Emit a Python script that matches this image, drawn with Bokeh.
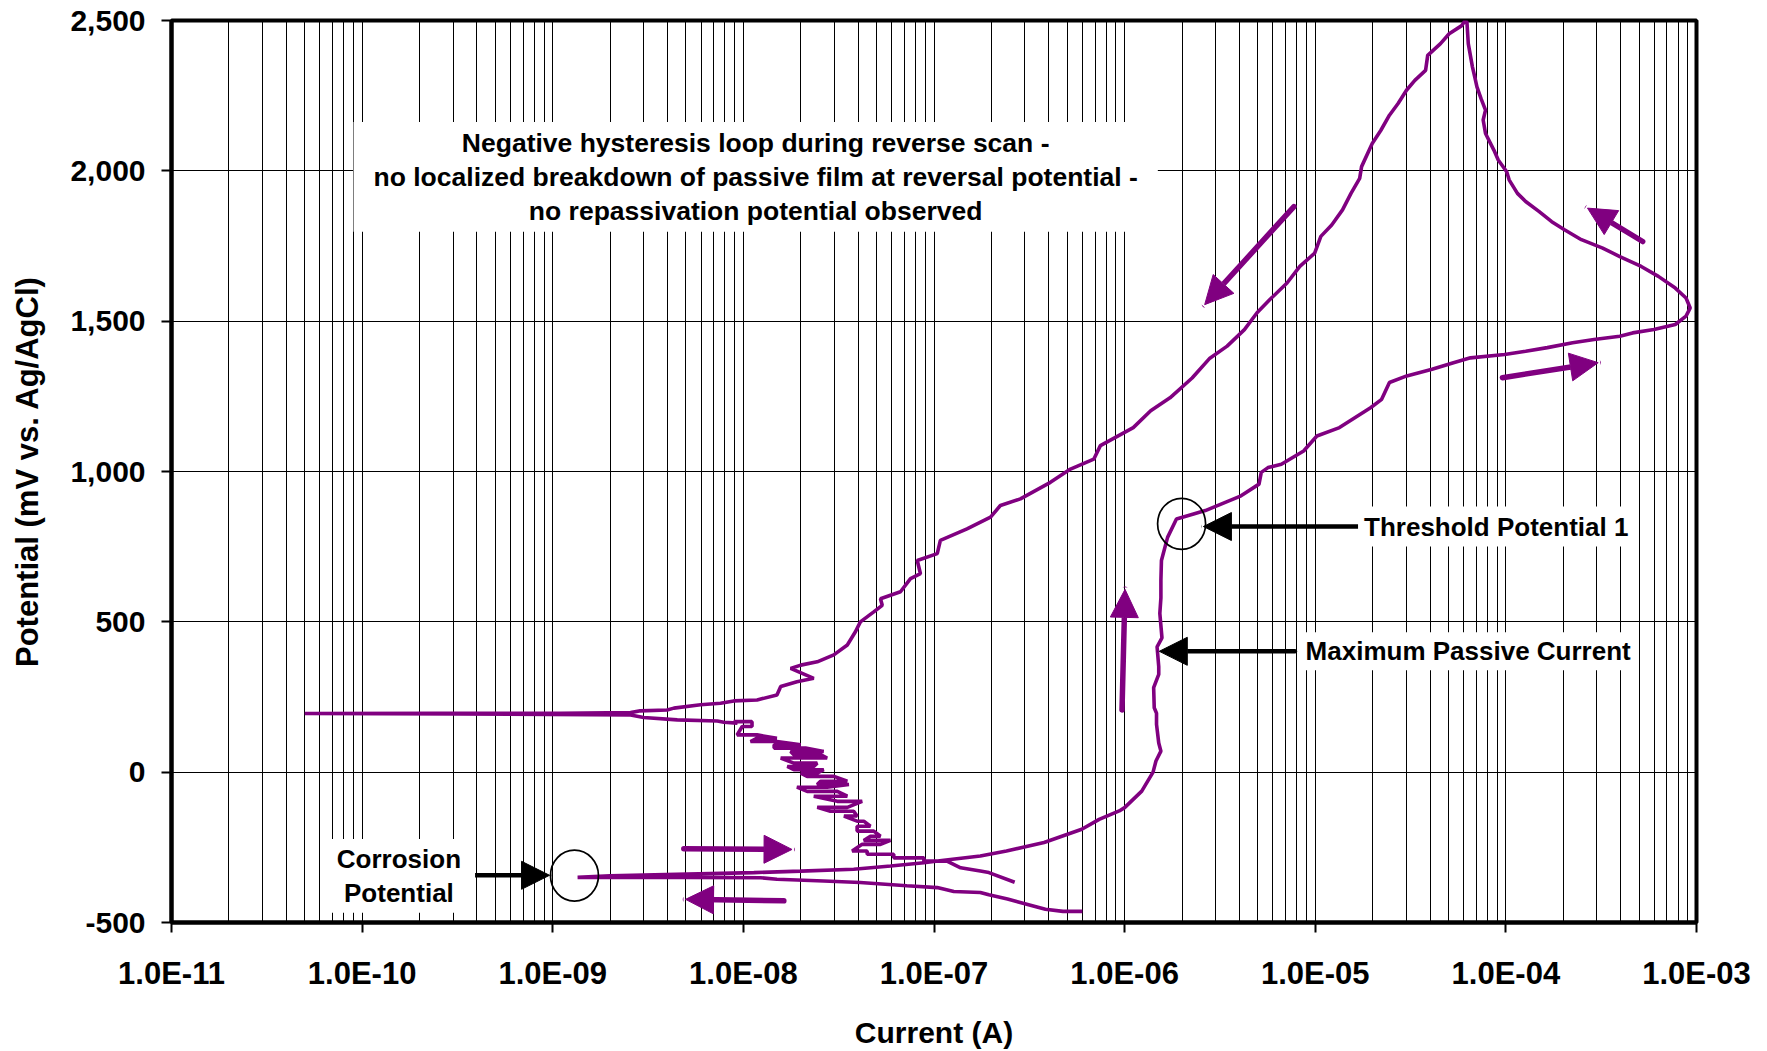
from bokeh.plotting import figure
from bokeh.models import (FixedTicker, NumeralTickFormatter, CustomJSTickFormatter,
                          Label, Arrow, NormalHead)
from bokeh.embed import file_html
from bokeh.resources import INLINE

# ---------------- data (current in A, potential in mV vs Ag/AgCl) ----------------
# initial cathodic part of the scan, from the start potential up to the corrosion potential
cath_start_current = [6.0e-7, 4.75e-7, 3.84e-7, 2.43e-7, 1.94e-7, 1.75e-7, 1.27e-7, 1.04e-7,
                      7.2e-8, 4.1e-8, 2.64e-8, 1.50e-8, 1.23e-8, 5.0e-9, 1.35e-9]
cath_start_potential = [-463, -463, -456, -422, -408, -400, -397, -384,
                        -378, -367, -362, -356, -351, -350, -350]

# forward (anodic) scan up to the reversal potential
forward_current = [1.35e-9, 2.0e-9, 1.135e-8, 2.0e-8, 3.79e-8, 5.92e-8, 8.85e-8, 1.127e-7,
                   1.75e-7, 2.40e-7, 3.78e-7, 5.96e-7, 7.35e-7, 9.37e-7, 1.0e-6, 1.23e-6,
                   1.41e-6, 1.46e-6, 1.55e-6, 1.51e-6, 1.47e-6, 1.47e-6, 1.43e-6, 1.42e-6,
                   1.51e-6, 1.51e-6, 1.48e-6, 1.57e-6, 1.53e-6, 1.55e-6, 1.55e-6, 1.56e-6,
                   1.68e-6, 1.87e-6, 2.14e-6, 2.65e-6, 4.08e-6, 5.07e-6, 5.21e-6, 5.65e-6,
                   6.64e-6, 8.69e-6, 1.02e-5, 1.34e-5, 1.95e-5, 2.23e-5, 2.45e-5, 3.02e-5,
                   4.10e-5, 5.31e-5, 6.52e-5, 9.84e-5, 1.27e-4, 1.65e-4, 2.24e-4, 2.90e-4,
                   3.96e-4, 4.62e-4, 5.98e-4, 7.74e-4, 8.81e-4, 9.27e-4, 8.81e-4, 7.74e-4,
                   6.31e-4, 5.13e-4, 3.96e-4, 3.22e-4, 2.49e-4, 2.03e-4, 1.74e-4, 1.49e-4,
                   1.27e-4, 1.15e-4, 1.04e-4, 1.01e-4, 9.12e-5, 8.65e-5, 7.82e-5, 7.60e-5,
                   7.82e-5, 7.41e-5, 7.05e-5, 6.87e-5, 6.68e-5, 6.35e-5, 6.25e-5, 6.12e-5]
forward_potential = [-350, -345, -334, -329, -323, -312, -301, -293,
                     -279, -262, -234, -190, -157, -129, -118, -63,
                     0, 37, 70, 97, 159, 196, 214, 281,
                     325, 351, 417, 447, 528, 580, 638, 704,
                     781, 842, 853, 870, 919, 958, 997, 1013,
                     1024, 1068, 1118, 1146, 1212, 1240, 1296, 1318,
                     1340, 1362, 1378, 1389, 1400, 1412, 1428, 1439,
                     1450, 1461, 1472, 1489, 1517, 1544, 1577, 1610,
                     1649, 1682, 1715, 1743, 1771, 1804, 1831, 1865,
                     1898, 1925, 1970, 1997, 2036, 2069, 2124, 2169,
                     2202, 2240, 2279, 2312, 2345, 2423, 2494, 2500]

# reverse scan from the reversal potential down to the zero-current crossing and back
reverse_current = [6.12e-5, 5.87e-5, 5.04e-5, 4.54e-5, 3.89e-5, 3.79e-5, 3.33e-5, 3.01e-5,
                   2.72e-5, 2.45e-5, 2.21e-5, 1.99e-5, 1.75e-5, 1.71e-5, 1.54e-5, 1.39e-5,
                   1.22e-5, 1.07e-5, 9.93e-6, 8.30e-6, 7.11e-6, 5.78e-6, 4.95e-6, 4.25e-6,
                   3.45e-6, 2.80e-6, 2.26e-6, 1.73e-6, 1.37e-6, 1.11e-6, 7.46e-7, 6.89e-7,
                   5.20e-7, 4.08e-7, 2.84e-7, 2.23e-7, 1.98e-7, 1.49e-7, 1.08e-7, 1.04e-7,
                   8.17e-8, 8.49e-8, 7.53e-8, 6.67e-8, 5.24e-8, 5.35e-8, 4.83e-8, 4.11e-8,
                   3.87e-8, 3.51e-8, 2.98e-8, 2.44e-8, 2.0e-8, 1.77e-8, 2.34e-8, 1.91e-8,
                   1.57e-8, 1.50e-8, 1.18e-8, 8.91e-9, 7.59e-9, 5.96e-9, 4.32e-9, 3.98e-9,
                   2.88e-9, 2.56e-9, 1.10e-9, 2.5e-10, 5.0e-11, 3.2e-10, 2.56e-9, 3.0e-9,
                   4.5e-9, 7.3e-9, 7.9e-9, 9.3e-9]
reverse_potential = [2500, 2483, 2456, 2423, 2384, 2334, 2301, 2268,
                     2224, 2185, 2135, 2091, 2014, 1975, 1925, 1870,
                     1820, 1782, 1726, 1682, 1627, 1572, 1528, 1472,
                     1417, 1377, 1311, 1245, 1202, 1146, 1086, 1041,
                     1008, 964, 909, 887, 848, 809, 771, 727,
                     704, 660, 644, 600, 577, 555, 533, 500,
                     467, 423, 390, 367, 356, 345, 312, 301,
                     285, 257, 240, 237, 229, 224, 213, 207,
                     204, 198, 196, 196, 195, 194, 190, 182,
                     174, 170, 166, 163]

# noisy cathodic end of the reverse scan
noisy_current = [8.9e-9, 1.11e-8, 1.11e-8, 9.86e-9, 9.27e-9, 1.18e-8, 1.50e-8, 1.18e-8,
                 1.09e-8, 1.50e-8, 2.0e-8, 1.45e-8, 1.45e-8, 2.12e-8, 2.64e-8, 1.77e-8,
                 1.84e-8, 2.54e-8, 2.75e-8, 1.57e-8, 1.84e-8, 2.44e-8, 2.34e-8, 1.70e-8,
                 1.84e-8, 2.64e-8, 2.44e-8, 2.0e-8, 2.16e-8, 2.99e-8, 3.51e-8, 2.54e-8,
                 2.44e-8, 3.58e-8, 2.75e-8, 1.91e-8, 2.16e-8, 3.11e-8, 3.51e-8, 2.34e-8,
                 3.11e-8, 4.20e-8, 3.51e-8, 2.44e-8, 2.86e-8, 3.79e-8, 3.95e-8, 3.37e-8,
                 3.95e-8, 4.28e-8, 4.64e-8, 3.95e-8, 3.95e-8, 4.83e-8, 5.24e-8, 4.64e-8,
                 4.28e-8, 5.91e-8, 5.24e-8, 4.20e-8, 3.72e-8, 4.46e-8, 4.46e-8, 6.15e-8,
                 6.15e-8, 8.85e-8, 8.85e-8, 1.17e-7, 1.38e-7, 1.75e-7, 1.94e-7, 2.65e-7]
noisy_potential = [168, 168, 152, 152, 124, 124, 113, 113,
                   102, 102, 91, 91, 80, 80, 69, 69,
                   58, 58, 47, 47, 30, 30, 19, 19,
                   8, 8, -3, -3, -14, -14, -30, -30,
                   -41, -41, -50, -50, -64, -64, -80, -80,
                   -97, -97, -117, -117, -130, -130, -146, -146,
                   -163, -163, -180, -180, -196, -196, -213, -213,
                   -227, -227, -240, -240, -262, -262, -273, -273,
                   -285, -285, -296, -296, -318, -329, -334, -366]

scan_current = cath_start_current + forward_current + reverse_current + noisy_current
scan_potential = cath_start_potential + forward_potential + reverse_potential + noisy_potential

# axes
x_tick_values = [1e-11, 1e-10, 1e-9, 1e-8, 1e-7, 1e-6, 1e-5, 1e-4, 1e-3]
x_tick_exponents = [-11, -10, -9, -8, -7, -6, -5, -4, -3]
x_tick_labels = ["1.0E-11", "1.0E-10", "1.0E-09", "1.0E-08", "1.0E-07",
                 "1.0E-06", "1.0E-05", "1.0E-04", "1.0E-03"]
x_minor_multipliers = [2, 3, 4, 5, 6, 7, 8, 9]
y_tick_values = [-500, 0, 500, 1000, 1500, 2000, 2500]

# annotations
note_text = ("Negative hysteresis loop during reverse scan -\n"
             "no localized breakdown of passive film at reversal potential -\n"
             "no repassivation potential observed")
note_pos = (1.16e-8, 1980)
threshold_label_pos = (8.9e-5, 817)
maxpass_label_pos = (6.34e-5, 402)
corrosion_label_pos = (1.56e-10, -345)
black_arrows = [  # (x_start, y_start, x_end, y_end)
    (1.71e-5, 817, 2.59e-6, 817),
    (7.83e-6, 402, 1.52e-6, 402),
    (3.53e-10, -343, 9.62e-10, -343),
]
purple_arrows = [
    (4.87e-9, -255, 1.80e-8, -257),
    (1.63e-8, -428, 4.97e-9, -423),
    (9.69e-7, 207, 1.005e-6, 608),
    (7.73e-6, 1881, 2.63e-6, 1555),
    (5.22e-4, 1765, 2.68e-4, 1876),
    (9.59e-5, 1312, 3.05e-4, 1362),
]
circle_x = [1.99e-6, 1.30e-9]
circle_y = [826, -344]

PURPLE = "#800080"
FONT = "Liberation Sans"

p = figure(width=1767, height=1051, x_axis_type="log",
           x_range=(1e-11, 1e-3), y_range=(-500, 2500),
           output_backend="svg", toolbar_location=None,
           min_border_left=171, min_border_right=71,
           min_border_top=20, min_border_bottom=126,
           background_fill_color="white", border_fill_color="white")

minor = [m * d for d in x_tick_values[:-1] for m in x_minor_multipliers]
p.xaxis.ticker = FixedTicker(ticks=x_tick_values, minor_ticks=minor)
p.yaxis.ticker = FixedTicker(ticks=y_tick_values)
p.xaxis.formatter = CustomJSTickFormatter(
    args=dict(labels=x_tick_labels, exps=x_tick_exponents),
    code="const e = Math.round(Math.log10(tick)); const i = exps.indexOf(e); return i >= 0 ? labels[i] : '';")
p.yaxis.formatter = NumeralTickFormatter(format="0,0")

p.xgrid.grid_line_color = "black"
p.xgrid.grid_line_width = 1
p.xgrid.minor_grid_line_color = "black"
p.xgrid.minor_grid_line_width = 1
p.ygrid.grid_line_color = "black"
p.ygrid.grid_line_width = 1

for ax in (p.xaxis, p.yaxis):
    ax.axis_line_width = 4
    ax.axis_line_color = "black"
    ax.major_tick_line_width = 2
    ax.major_tick_line_color = "black"
    ax.major_tick_out = 10
    ax.major_tick_in = 0
    ax.minor_tick_line_color = None
    ax.major_label_text_font = FONT
    ax.major_label_text_font_style = "bold"
    ax.major_label_text_color = "black"
    ax.axis_label_text_font = FONT
    ax.axis_label_text_font_style = "bold"
    ax.axis_label_text_color = "black"

p.xaxis.major_label_text_font_size = "31px"
p.yaxis.major_label_text_font_size = "30px"
p.xaxis.axis_label_text_font_size = "30px"
p.yaxis.axis_label_text_font_size = "31px"

p.xaxis.axis_label = "Current (A)"
p.yaxis.axis_label = "Potential (mV vs. Ag/AgCl)"
p.xaxis.major_label_standoff = 23
p.yaxis.major_label_standoff = 16
p.xaxis.axis_label_standoff = 22
p.yaxis.axis_label_standoff = 22

p.outline_line_color = "black"
p.outline_line_width = 4

p.line(scan_current, scan_potential, line_color=PURPLE, line_width=3.6)

p.ellipse(x=circle_x, y=circle_y, width=48, height=51,
          width_units="screen", height_units="screen",
          fill_color=None, line_color="black", line_width=1.7)

for (xs, ys, xe, ye) in black_arrows:
    p.add_layout(Arrow(end=NormalHead(size=28, fill_color="black", line_color="black"),
                       x_start=xs, y_start=ys, x_end=xe, y_end=ye,
                       line_color="black", line_width=4.5, line_cap="round"))
for (xs, ys, xe, ye) in purple_arrows:
    p.add_layout(Arrow(end=NormalHead(size=28, fill_color=PURPLE, line_color=PURPLE),
                       x_start=xs, y_start=ys, x_end=xe, y_end=ye,
                       line_color=PURPLE, line_width=5.5, line_cap="round"))

def label(pos, text, pad, size="26px"):
    return Label(x=pos[0], y=pos[1], text=text, text_align="center", text_baseline="middle",
                 text_font=FONT, text_font_style="bold", text_font_size=size,
                 text_color="black", text_line_height=1.13,
                 background_fill_color="white", padding=pad)

p.add_layout(label(note_pos, note_text, dict(left=20, right=20, top=6, bottom=6), "26.5px"))
p.add_layout(label(threshold_label_pos, "Threshold Potential 1", dict(left=6, right=6, top=5, bottom=5)))
p.add_layout(label(maxpass_label_pos, "Maximum Passive Current", dict(left=8, right=8, top=4, bottom=4)))
p.add_layout(label(corrosion_label_pos, "Corrosion\nPotential", dict(left=14, right=14, top=5, bottom=5)))

open("out.html", "w").write(file_html(p, INLINE))
